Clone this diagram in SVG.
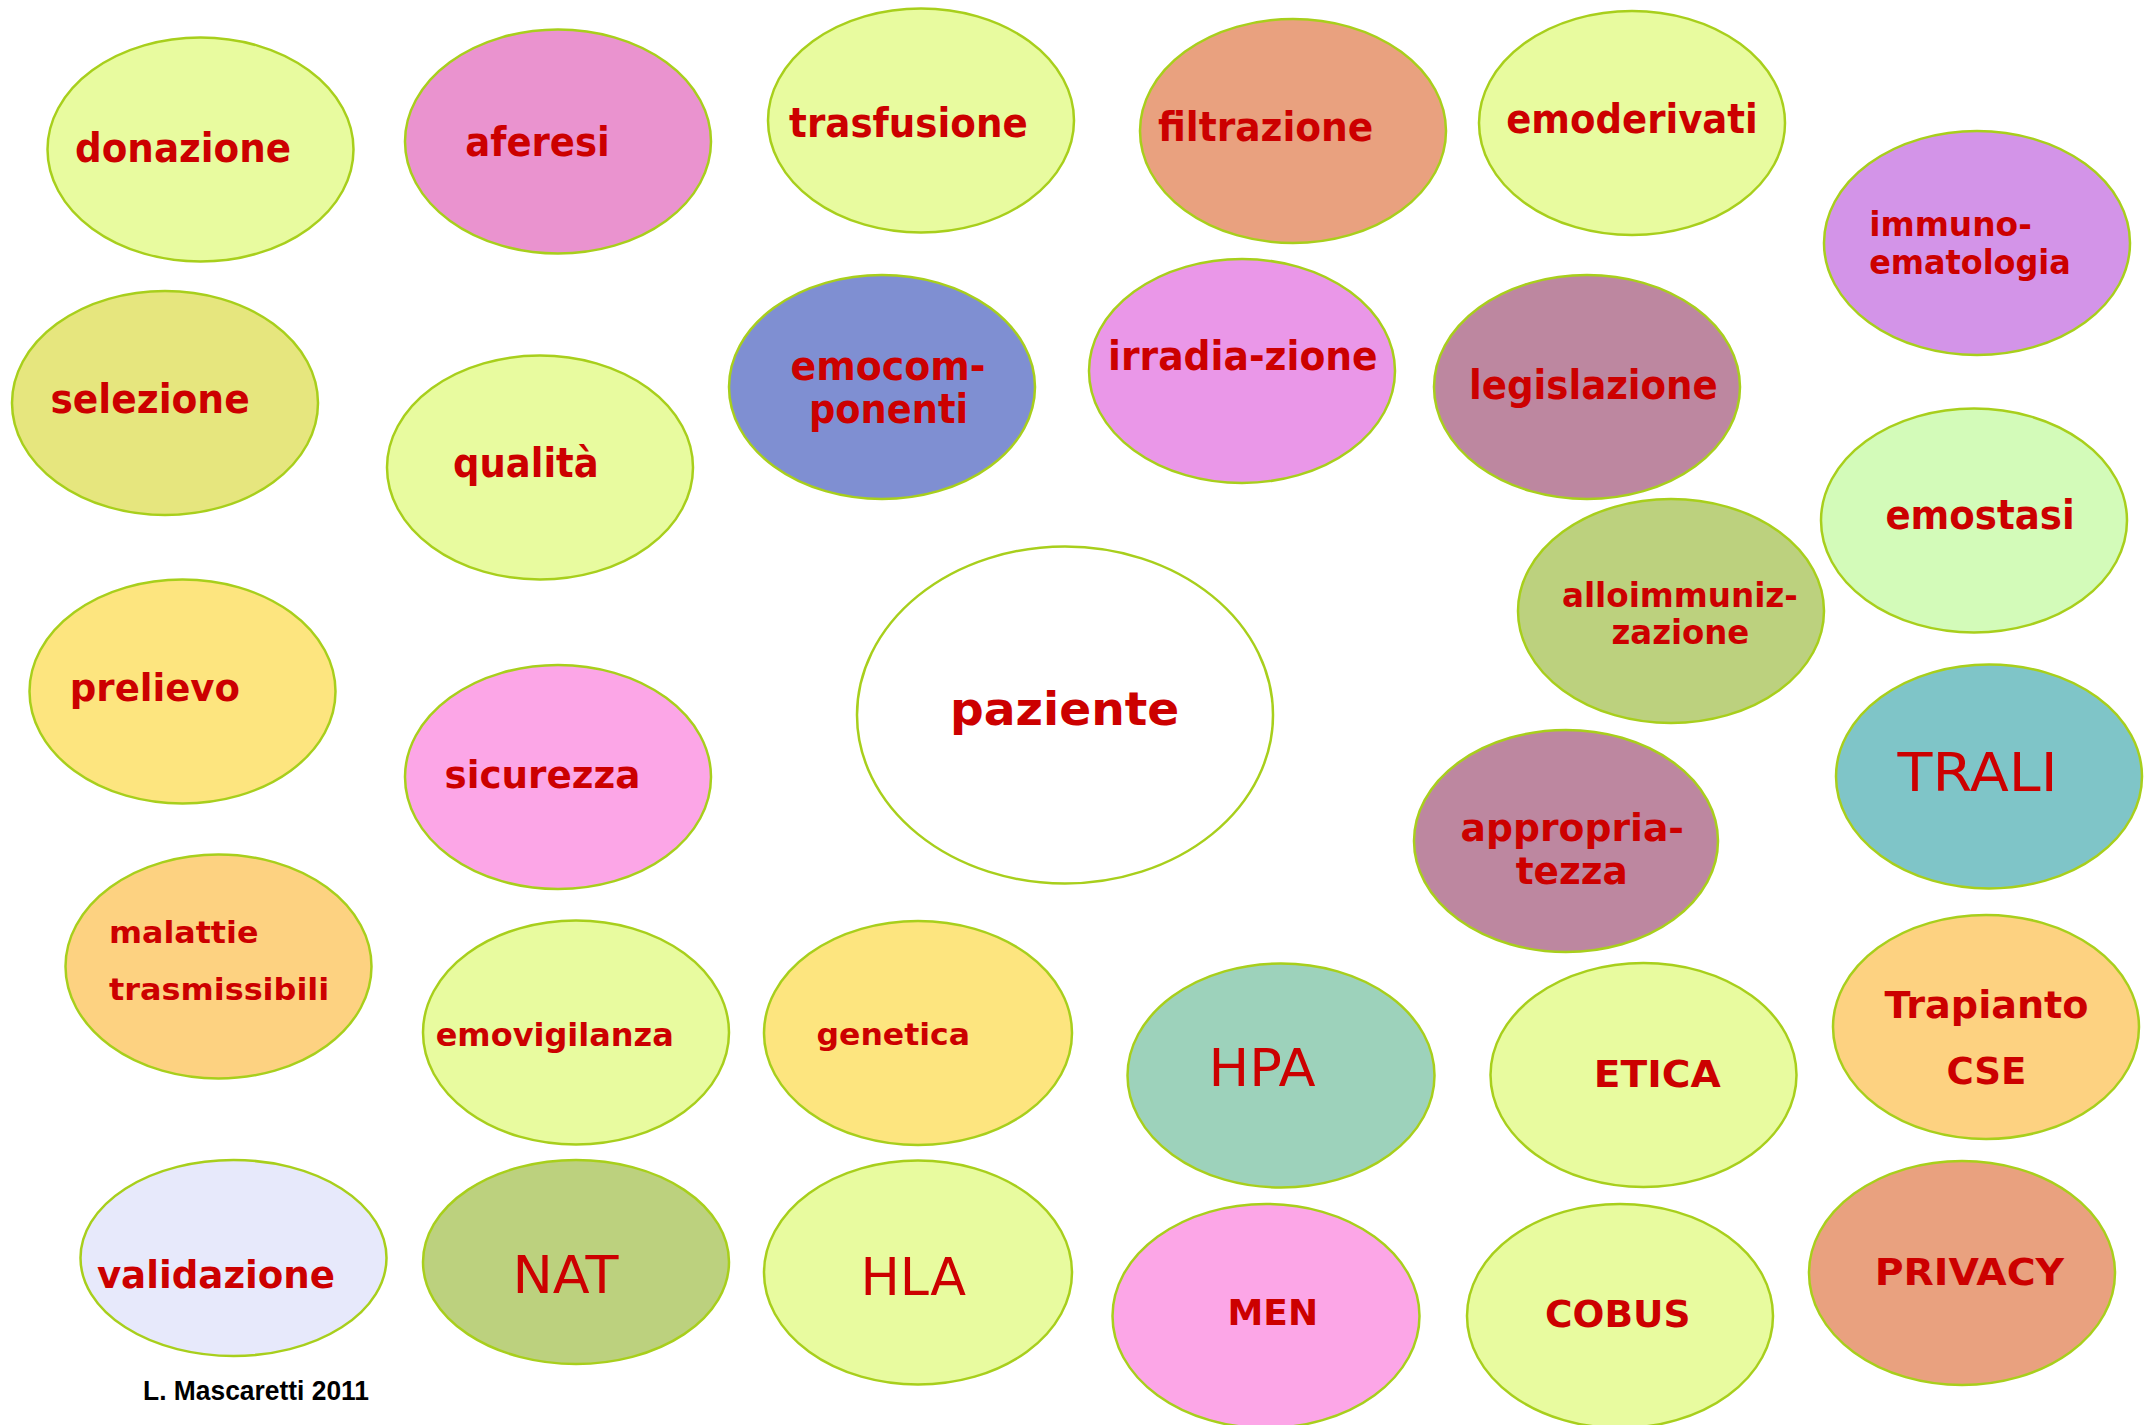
<svg xmlns="http://www.w3.org/2000/svg" width="2147" height="1425" viewBox="0 0 2147 1425">
<style>
ellipse{stroke:#a8cf1c;stroke-width:2.5}
text{fill:#cc0000}
.c{font-family:"DejaVu Sans Condensed","DejaVu Sans",sans-serif;font-stretch:condensed;font-weight:bold;font-size:40px}
.cs{font-family:"DejaVu Sans Condensed","DejaVu Sans",sans-serif;font-stretch:condensed;font-weight:bold;font-size:33px}
.b{font-family:"DejaVu Sans",Verdana,sans-serif;font-weight:bold}
.r{font-family:"DejaVu Sans",Verdana,sans-serif;font-weight:normal}
.cr{font-family:"Liberation Sans",Arial,sans-serif;font-weight:bold;font-size:27px;fill:#000}
</style>
<rect width="2147" height="1425" fill="#ffffff"/>
<g id="connectors"/>
<g id="donazione"><ellipse cx="200.5" cy="149.5" rx="153" ry="112" fill="#e8fb9f"/><text class="c" x="75" y="162.4" textLength="216" lengthAdjust="spacingAndGlyphs">donazione</text></g>
<g id="aferesi"><ellipse cx="558" cy="141.5" rx="153" ry="112" fill="#ea93cf"/><text class="c" x="465.3" y="156.4" textLength="144.5" lengthAdjust="spacingAndGlyphs">aferesi</text></g>
<g id="trasfusione"><ellipse cx="921" cy="120.5" rx="153" ry="112" fill="#e8fb9f"/><text class="c" x="789.1" y="137.4" textLength="238.6" lengthAdjust="spacingAndGlyphs">trasfusione</text></g>
<g id="filtrazione"><ellipse cx="1293" cy="131" rx="153" ry="112" fill="#e9a17f"/><text class="c" x="1158" y="141" textLength="215.3" lengthAdjust="spacingAndGlyphs">filtrazione</text></g>
<g id="emoderivati"><ellipse cx="1632" cy="123" rx="153" ry="112" fill="#e8fb9f"/><text class="c" x="1506.2" y="132.5" textLength="251.6" lengthAdjust="spacingAndGlyphs">emoderivati</text></g>
<g id="immunoematologia"><ellipse cx="1977" cy="243" rx="153" ry="112" fill="#d394e8"/><text class="cs" x="1869.2" y="235.9" textLength="162.6" lengthAdjust="spacingAndGlyphs">immuno-</text><text class="cs" x="1869.2" y="274.1" textLength="201.6" lengthAdjust="spacingAndGlyphs">ematologia</text></g>
<g id="selezione"><ellipse cx="165" cy="403" rx="153" ry="112" fill="#e6e67e"/><text class="c" x="50.4" y="413.4" textLength="199.3" lengthAdjust="spacingAndGlyphs">selezione</text></g>
<g id="qualita"><ellipse cx="540" cy="467.5" rx="153" ry="112" fill="#e8fb9f"/><text class="c" x="453.1" y="476.6" textLength="145.6" lengthAdjust="spacingAndGlyphs">qualità</text></g>
<g id="emocomponenti"><ellipse cx="882" cy="387" rx="153" ry="112" fill="#7f8fd2"/><text class="c" x="790.5" y="380.2" textLength="195" lengthAdjust="spacingAndGlyphs">emocom-</text><text class="c" x="809" y="423" textLength="159.1" lengthAdjust="spacingAndGlyphs">ponenti</text></g>
<g id="irradiazione"><ellipse cx="1242" cy="371" rx="153" ry="112" fill="#ea97e8"/><text class="c" x="1108.1" y="369.5" textLength="269.6" lengthAdjust="spacingAndGlyphs">irradia-zione</text></g>
<g id="legislazione"><ellipse cx="1587" cy="387" rx="153" ry="112" fill="#bd87a0"/><text class="c" x="1469" y="398.5" textLength="248.8" lengthAdjust="spacingAndGlyphs">legislazione</text></g>
<g id="emostasi"><ellipse cx="1974" cy="520.5" rx="153" ry="112" fill="#d3fbb9"/><text class="c" x="1885.4" y="529.4" textLength="189.3" lengthAdjust="spacingAndGlyphs">emostasi</text></g>
<g id="alloimmunizzazione"><ellipse cx="1671" cy="611" rx="153" ry="112" fill="#bcd17e"/><text class="cs" x="1561.9" y="607" textLength="236" lengthAdjust="spacingAndGlyphs">alloimmuniz-</text><text class="cs" x="1611.5" y="644.2" textLength="137.8" lengthAdjust="spacingAndGlyphs">zazione</text></g>
<g id="paziente"><ellipse cx="1065" cy="715" rx="208" ry="168.5" fill="#ffffff"/><text class="b" font-size="47" x="950" y="724.9" textLength="229.3" lengthAdjust="spacingAndGlyphs">paziente</text></g>
<g id="trali"><ellipse cx="1989" cy="776.5" rx="153" ry="112" fill="#7fc5c8"/><text class="r" font-size="53" x="1897.5" y="791.2" textLength="160" lengthAdjust="spacingAndGlyphs">TRALI</text></g>
<g id="appropriatezza"><ellipse cx="1566" cy="841" rx="152" ry="111" fill="#bd87a0"/><text class="b" font-size="37" x="1460.5" y="841.2" textLength="223.5" lengthAdjust="spacingAndGlyphs">appropria-</text><text class="b" font-size="37" x="1515.7" y="884.3" textLength="112.1" lengthAdjust="spacingAndGlyphs">tezza</text></g>
<g id="prelievo"><ellipse cx="182.5" cy="691.5" rx="153" ry="112" fill="#fde57f"/><text class="b" font-size="37" x="69.8" y="700.7" textLength="170.2" lengthAdjust="spacingAndGlyphs">prelievo</text></g>
<g id="sicurezza"><ellipse cx="558" cy="777" rx="153" ry="112" fill="#fca6e7"/><text class="b" font-size="37" x="444.5" y="787.9" textLength="195.8" lengthAdjust="spacingAndGlyphs">sicurezza</text></g>
<g id="malattie"><ellipse cx="218.5" cy="966.5" rx="153" ry="112" fill="#fdd281"/><text class="b" font-size="31" x="109" y="943.4" textLength="149.4" lengthAdjust="spacingAndGlyphs">malattie</text><text class="b" font-size="31" x="109" y="999.7" textLength="220.2" lengthAdjust="spacingAndGlyphs">trasmissibili</text></g>
<g id="emovigilanza"><ellipse cx="576" cy="1032.5" rx="153" ry="112" fill="#e8fb9f"/><text class="b" font-size="32" x="435.7" y="1045.5" textLength="238.1" lengthAdjust="spacingAndGlyphs">emovigilanza</text></g>
<g id="genetica"><ellipse cx="918" cy="1033" rx="154" ry="112" fill="#fde57f"/><text class="b" font-size="31" x="816.5" y="1045.2" textLength="153.4" lengthAdjust="spacingAndGlyphs">genetica</text></g>
<g id="hpa"><ellipse cx="1281" cy="1075.5" rx="153.5" ry="112" fill="#9dd2bb"/><text class="r" font-size="52" x="1208.5" y="1085.7" textLength="107" lengthAdjust="spacingAndGlyphs">HPA</text></g>
<g id="etica"><ellipse cx="1643.5" cy="1075" rx="153" ry="112" fill="#e8fb9f"/><text class="b" font-size="38" x="1593.8" y="1087" textLength="127" lengthAdjust="spacingAndGlyphs">ETICA</text></g>
<g id="trapianto"><ellipse cx="1986" cy="1027" rx="153" ry="112" fill="#fdd281"/><text class="b" font-size="37" x="1884.5" y="1018" textLength="204" lengthAdjust="spacingAndGlyphs">Trapianto</text><text class="b" font-size="37" x="1946.4" y="1084" textLength="80.1" lengthAdjust="spacingAndGlyphs">CSE</text></g>
<g id="validazione"><ellipse cx="233.5" cy="1258" rx="153" ry="98" fill="#e7e9fb"/><text class="b" font-size="37" x="96.9" y="1288.2" textLength="238.1" lengthAdjust="spacingAndGlyphs">validazione</text></g>
<g id="nat"><ellipse cx="576" cy="1262" rx="153" ry="102" fill="#bcd17e"/><text class="r" font-size="52" x="512.5" y="1292.7" textLength="106" lengthAdjust="spacingAndGlyphs">NAT</text></g>
<g id="hla"><ellipse cx="918" cy="1272.5" rx="154" ry="112" fill="#e8fb9f"/><text class="r" font-size="52" x="860.5" y="1295.2" textLength="105.5" lengthAdjust="spacingAndGlyphs">HLA</text></g>
<g id="men"><ellipse cx="1266" cy="1316" rx="153.5" ry="112" fill="#fca6e7"/><text class="b" font-size="35" x="1227.5" y="1325.2" textLength="90.5" lengthAdjust="spacingAndGlyphs">MEN</text></g>
<g id="cobus"><ellipse cx="1620" cy="1316" rx="153" ry="112" fill="#e8fb9f"/><text class="b" font-size="37" x="1545" y="1327.3" textLength="145.5" lengthAdjust="spacingAndGlyphs">COBUS</text></g>
<g id="privacy"><ellipse cx="1962" cy="1273" rx="153" ry="112" fill="#e9a17f"/><text class="b" font-size="38" x="1874.7" y="1284.8" textLength="189.3" lengthAdjust="spacingAndGlyphs">PRIVACY</text></g>
<g id="credit"><text class="cr" x="143" y="1399.7" textLength="226" lengthAdjust="spacingAndGlyphs">L. Mascaretti 2011</text></g>
</svg>
